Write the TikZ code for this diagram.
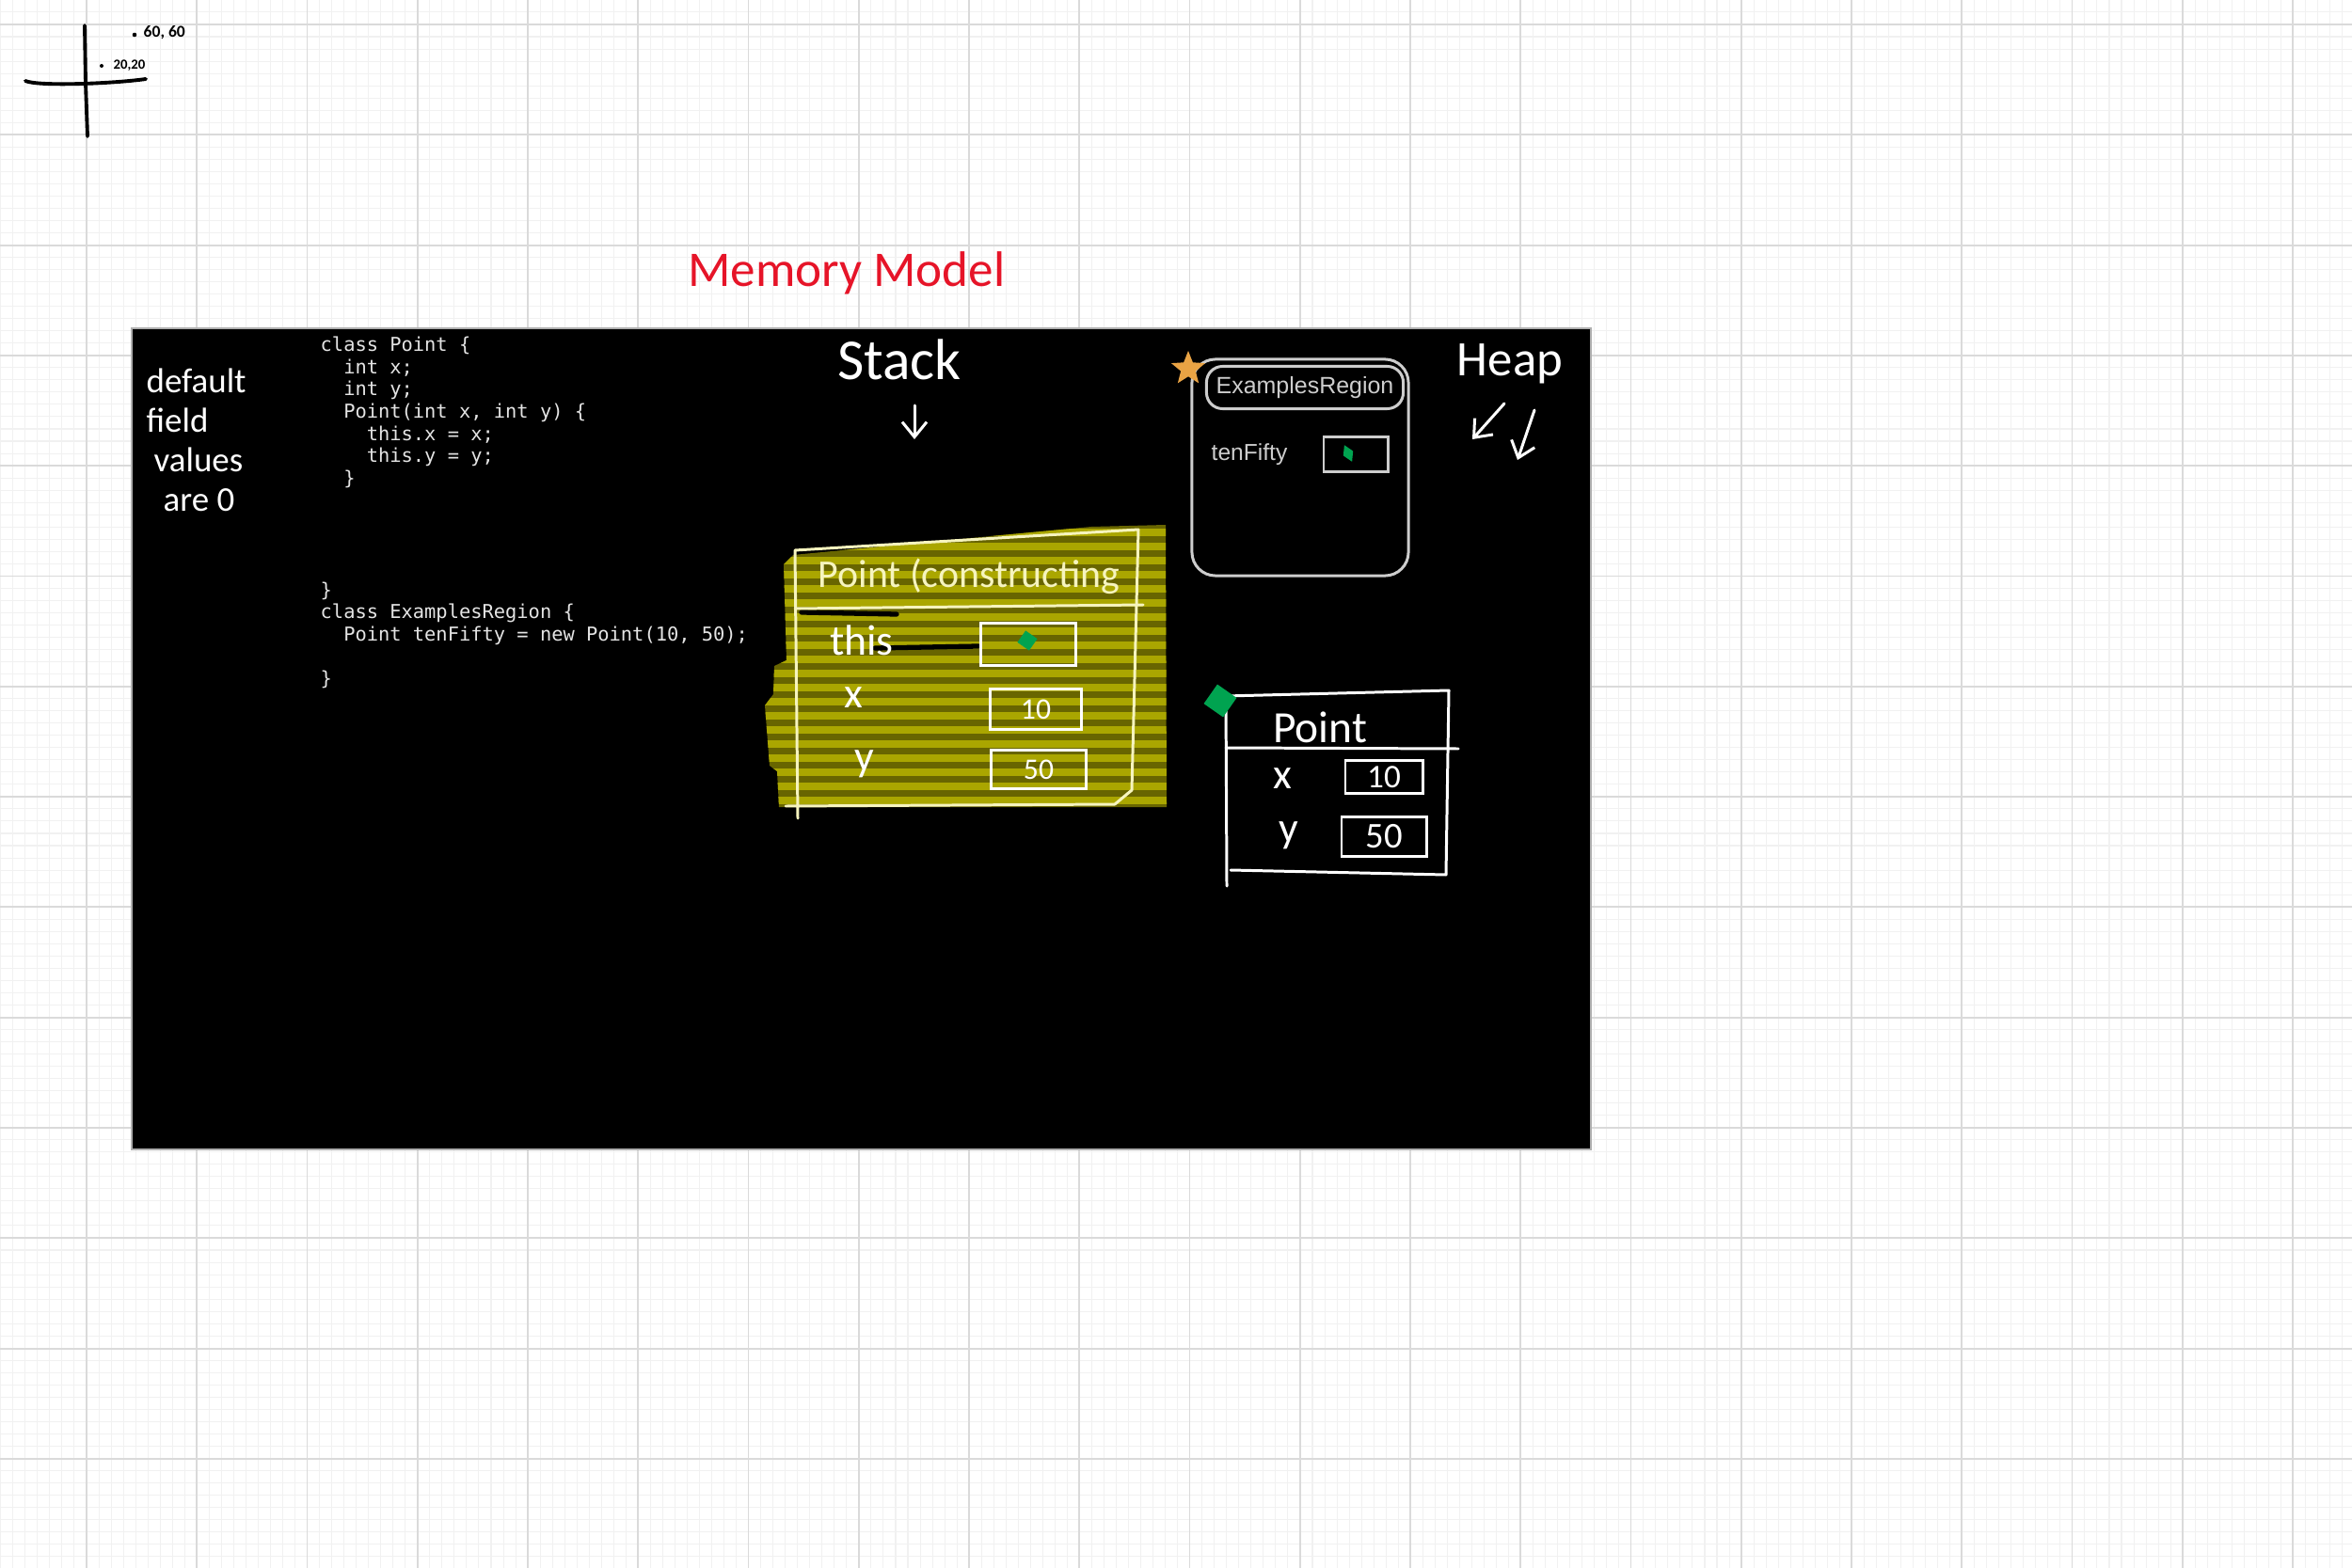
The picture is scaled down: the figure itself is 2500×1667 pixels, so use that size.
\documentclass[tikz,border=0pt]{standalone}
\usepackage{fontspec}
\newfontfamily\handfont{Carlito}
\newfontfamily\codefont{DejaVu Sans Mono}
\newfontfamily\uifont{Liberation Sans}
\definecolor{GridMajor}{RGB}{218, 218, 218}
\definecolor{GridMinor}{RGB}{241, 241, 241}
\definecolor{BoardEdge}{RGB}{175, 175, 175}
\definecolor{InkRed}{RGB}{230, 20, 40}
\definecolor{CodeGray}{RGB}{228, 228, 228}
\definecolor{HiDark}{RGB}{104, 101, 0}
\definecolor{HiBright}{RGB}{170, 166, 0}
\definecolor{ChalkYellow}{RGB}{246, 244, 190}
\definecolor{FrameGray}{RGB}{205, 205, 205}
\definecolor{PtrGreen}{RGB}{0, 163, 80}
\definecolor{StarOrange}{RGB}{233, 163, 68}
\usetikzlibrary{arrows.meta, positioning, shapes, calc}

\begin{document}
\begin{tikzpicture}[x=0.01cm, y=-0.01cm, every node/.style={inner sep=0pt},
    hand/.style={text=white, font=\handfont\fontsize{13}{15}\selectfont},
    chalk/.style={draw=white, line width=0.85pt, line cap=round, line join=round},
    slotbox/.style={draw=white, line width=0.85pt},
    ptr/.style={diamond, fill=PtrGreen},
    handarrow/.style={white, line width=0.85pt, line cap=round, -{Straight Barb[length=1.6mm, width=2.6mm]}},
    stripe/.style={HiBright, line width=2pt}]
    \useasboundingbox (0,0) rectangle (2500,1667);
    \fill[white] (0,0) rectangle (2500,1667);
    \foreach \k in {-7,...,184} \draw[GridMinor, line width=0.3pt] ({92+13.03*\k},0) -- ({92+13.03*\k},1667);
    \foreach \k in {-2,...,126} \draw[GridMinor, line width=0.3pt] (0,{26+13.03*\k}) -- (2500,{26+13.03*\k});
    \foreach \k in {0,...,20} \draw[GridMajor, line width=0.55pt] ({92+117.25*\k},0) -- ({92+117.25*\k},1667);
    \foreach \k in {0,...,13} \draw[GridMajor, line width=0.55pt] (0,{26+117.3*\k}) -- (2500,{26+117.3*\k});

    \draw[line width=1.1pt, line cap=round] (90,27) -- (91,88) -- (93,145);
    \draw[line width=1.1pt, line cap=round] (27,86) .. controls (40,92) and (120,89) .. (155,84);
    \fill (143,37) circle (2.3);
    \fill (108,70) circle (2);
    \node[anchor=west, font=\handfont\bfseries\fontsize{5}{6}\selectfont] (pt60) at (152,35) {60, 60};
    \node[anchor=west, font=\handfont\bfseries\fontsize{4.2}{5}\selectfont] (pt20) at (120,70) {20,20};

    \node[text=InkRed, font=\handfont\fontsize{15.1}{17}\selectfont] (title) at (900,290) {Memory Model};

    \draw[fill=black, draw=BoardEdge, line width=0.6pt] (140,349) rectangle (1691,1222);

    \node[anchor=north west, text=CodeGray, align=left, font=\codefont\fontsize{5.8}{6.74}\selectfont] (code) at (340,357) {class Point \{\\
        \phantom{xx}int x;\\
        \phantom{xx}int y;\\
        \phantom{xx}Point(int x, int y) \{\\
        \phantom{xxxx}this.x = x;\\
        \phantom{xxxx}this.y = y;\\
        \phantom{xx}\}\\
        \mbox{}\\ \mbox{}\\ \mbox{}\\ \mbox{}\\
        \}\\
        class ExamplesRegion \{\\
        \phantom{xx}Point tenFifty = new Point(10, 50);\\
        \mbox{}\\
        \}};

    \node[hand, anchor=west, align=left, font=\handfont\fontsize{10.5}{12}\selectfont] (note) at (155,468) {default\\field\\\hspace*{0.08cm}values\\\hspace*{0.18cm}are 0};

    \node[hand, font=\handfont\fontsize{17.5}{20}\selectfont] (stacklbl) at (956,382) {Stack};
    \coordinate (stackfrom) at (972,431);
    \coordinate (stackto) at (972,467);
    \draw[handarrow] (stackfrom) -- (stackto);

    \begin{scope}
        \clip (843,590) -- (1000,575) -- (1160,560) -- (1239,558) -- (1240,858) -- (828,858) -- (826,820) -- (818,814) -- (813,750) -- (822,738) -- (823,708) -- (836,702) -- (833,600) -- cycle;
        \fill[HiDark] (800,540) rectangle (1250,870);
        \foreach \yy in {566,581,...,856} \draw[stripe] (810,\yy) -- (1245,\yy);
    \end{scope}
    \draw[black, line width=1.5pt, line cap=round] (852,651) -- (953,653);
    \draw[black, line width=1.5pt, line cap=round] (930,689) -- (1040,687);
    \draw[chalk, draw=ChalkYellow] (848,870) -- (845,585) -- (1210,563) -- (1203,840) -- (1185,855) -- (835,857);
    \draw[chalk, draw=ChalkYellow] (845,647) -- (1215,643);
    \node[hand, text=ChalkYellow, font=\handfont\fontsize{11.9}{14}\selectfont] (frametitle) at (1030,613) {Point (constructing};
    \node[hand] (thislbl) at (916,681) {this};
    \node[slotbox, minimum width=1cm, minimum height=0.45cm] (thisbox) at (1093,685) {};
    \node[ptr, minimum size=0.22cm, rotate=10] (thisptr) at (1092,681) {};
    \node[hand] (xlbl) at (907,742) {x};
    \node[slotbox, hand, font=\handfont\fontsize{9}{10}\selectfont, minimum width=0.96cm, minimum height=0.43cm] (xbox) at (1101,754) {10};
    \node[hand] (ylbl) at (919,812) {y};
    \node[slotbox, hand, font=\handfont\fontsize{9}{10}\selectfont, minimum width=1cm, minimum height=0.41cm] (ybox) at (1104,818) {50};

    \node[hand, font=\handfont\fontsize{15}{17}\selectfont] (heaplbl) at (1605,387) {Heap};
    \coordinate (heapL1) at (1599,429);
    \coordinate (heapL2) at (1565,467);
    \coordinate (heapR1) at (1631,436);
    \coordinate (heapR2) at (1613,489);
    \draw[handarrow] (heapL1) -- (heapL2);
    \draw[handarrow] (heapR1) -- (heapR2);

    \node[draw=FrameGray, line width=0.85pt, rounded corners=0.25cm, minimum width=2.3cm, minimum height=2.3cm] (exframe) at (1382,497) {};
    \node[draw=FrameGray, line width=0.85pt, rounded corners=0.17cm, minimum width=2.09cm, minimum height=0.45cm, text=FrameGray, font=\uifont\fontsize{7.1}{8}\selectfont] (exhead) at (1387,412) {ExamplesRegion};
    \node[text=FrameGray, font=\uifont\fontsize{7}{8}\selectfont] (tenlbl) at (1328,483) {tenFifty};
    \node[draw=FrameGray, line width=0.85pt, minimum width=0.68cm, minimum height=0.37cm] (tenbox) at (1441,483) {};
    \node[ptr, minimum width=0.12cm, minimum height=0.2cm, rotate=25] (tenptr) at (1433,482) {};
    \node[star, star points=5, star point ratio=2.3, fill=StarOrange, minimum size=0.38cm] (exstar) at (1263,392) {};

    \draw[chalk] (1304,942) -- (1303,740) -- (1540,734) -- (1537,930) -- (1308,925);
    \draw[chalk] (1303,795) -- (1550,796);
    \node[ptr, minimum size=0.36cm, rotate=10] (heapptr) at (1297,745) {};
    \node[hand, font=\handfont\fontsize{13.5}{15}\selectfont] (hpointlbl) at (1403,773) {Point};
    \node[hand] (hxlbl) at (1363,828) {x};
    \node[slotbox, hand, font=\handfont\fontsize{10}{11}\selectfont, minimum width=0.82cm, minimum height=0.35cm] (hxbox) at (1471,826) {10};
    \node[hand] (hylbl) at (1370,888) {y};
    \node[slotbox, hand, font=\handfont\fontsize{11}{12}\selectfont, minimum width=0.9cm, minimum height=0.42cm, below=0.215cm of hxbox] (hybox) {50};
\end{tikzpicture}
\end{document}
